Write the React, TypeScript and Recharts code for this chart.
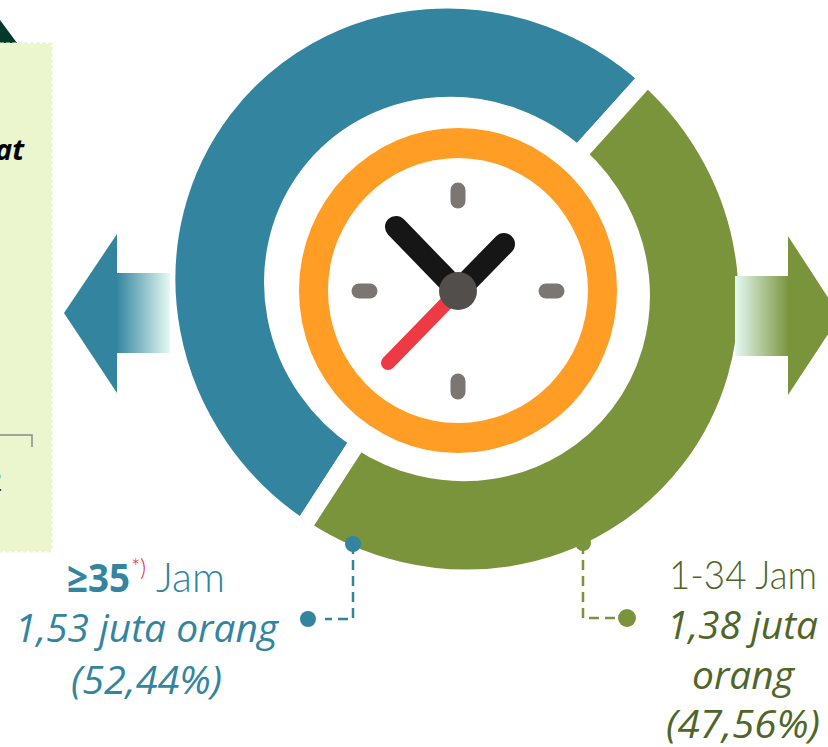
import React from 'react';
import { PieChart, Pie, Cell } from 'recharts';

const categories = ['>=35 Jam', '1-34 Jam'];
const shares = [52.44, 47.56];
const sliceColors = ['#32849f', '#7a943c'];
const pieData = categories.map((name, i) => ({ name, value: shares[i] }));

const BLUE = '#32849f';
const GREEN = '#7a943c';
const DARK_GREEN = '#4f6628';

const italicLabel = { fontFamily: '"Open Sans", sans-serif', fontStyle: 'italic', fontSize: 38 } as const;
const thinLabel = { fontFamily: 'Lato, sans-serif', fontWeight: 300, fontSize: 42 } as const;

// everything around the donut: clock face, arrows, leader lines, captions
const Overlay: React.FC = () => (
  <svg width={828} height={747} style={{ position: 'absolute', left: 0, top: 0 }}>
    <defs>
      <linearGradient id="fadeLeft" x1="0" y1="0" x2="1" y2="0">
        <stop offset="0" stopColor={BLUE} />
        <stop offset="1" stopColor="#e5faf3" />
      </linearGradient>
      <linearGradient id="fadeRight" x1="0" y1="0" x2="1" y2="0">
        <stop offset="0" stopColor="#e5faf3" />
        <stop offset="1" stopColor={GREEN} />
      </linearGradient>
    </defs>

    {/* side panel, mostly cut off in the source */}
    <polygon points="0,20 17,43 0,43" fill="#04382a" />
    <rect x={-6} y={44} width={57} height={507} fill="#ebf5ce" stroke="#ebf5ce" strokeWidth={3} strokeDasharray="4 2" />
    <text x={-5} y={160} fontFamily="'Open Sans', sans-serif" fontWeight={700} fontStyle="italic" fontSize={29} fill="#000">at</text>
    <path d="M0 435 H32 V447" fill="none" stroke="#8a8a8a" strokeWidth={1.5} />
    <text x={-13} y={491} fontFamily="'Open Sans', sans-serif" fontSize={27} fill="#333">2</text>

    {/* arrows */}
    <rect x={116} y={273} width={54} height={80} fill="url(#fadeLeft)" />
    <polygon points="64,313 117,234 117,393" fill={BLUE} />
    <rect x={735} y={276} width={54} height={80} fill="url(#fadeRight)" />
    <polygon points="840,316 788,236 788,395" fill={GREEN} />

    {/* clock */}
    <ellipse cx={458} cy={290.5} rx={159} ry={162.5} fill="#ff9d24" />
    <ellipse cx={458} cy={290.5} rx={130} ry={132.5} fill="#fff" />
    <g stroke="#7b7672" strokeWidth={15} strokeLinecap="round">
      <line x1={458} y1={190} x2={458} y2={201} />
      <line x1={458} y1={381} x2={458} y2={392} />
      <line x1={359} y1={291} x2={370} y2={291} />
      <line x1={546} y1={291} x2={557} y2={291} />
    </g>
    <line x1={458} y1={291} x2={388} y2={363} stroke="#ee3a43" strokeWidth={14} strokeLinecap="round" />
    <g stroke="#161616" strokeWidth={22} strokeLinecap="round">
      <line x1={458} y1={291} x2={396} y2={227} />
      <line x1={458} y1={291} x2={504} y2={244} />
    </g>
    <circle cx={458} cy={291} r={19} fill="#524e4b" />

    {/* leader lines */}
    <path d="M353 544 V619 H325" fill="none" stroke={BLUE} strokeWidth={2.5} strokeDasharray="10 6" />
    <circle cx={353} cy={544} r={8} fill={BLUE} />
    <circle cx={308} cy={619} r={8} fill={BLUE} />
    <path d="M583 544 V618 H615" fill="none" stroke={GREEN} strokeWidth={2.5} strokeDasharray="10 6" />
    <circle cx={583} cy={543} r={8} fill={GREEN} />
    <circle cx={627} cy={618} r={9} fill={GREEN} />

    {/* left caption */}
    <text x={67} y={592} textLength={63} lengthAdjust="spacingAndGlyphs" fontFamily="'Open Sans', sans-serif" fontWeight={700} fontSize={40} fill={BLUE}>≥35</text>
    <text x={131} y={576} textLength={15} lengthAdjust="spacingAndGlyphs" fontFamily="Lato, sans-serif" fontWeight={300} fontSize={24} fill="#e0202c">*)</text>
    <text x={156} y={592} textLength={69} lengthAdjust="spacingAndGlyphs" {...thinLabel} fill={BLUE}>Jam</text>
    <text x={15} y={642} textLength={263} lengthAdjust="spacingAndGlyphs" {...italicLabel} fill={BLUE}>1,53 juta orang</text>
    <text x={71} y={694} textLength={151} lengthAdjust="spacingAndGlyphs" {...italicLabel} fill={BLUE}>(52,44%)</text>

    {/* right caption */}
    <text x={669} y={589} textLength={148} lengthAdjust="spacingAndGlyphs" {...thinLabel} fontSize={40} fill={DARK_GREEN}>1-34 Jam</text>
    <text x={667} y={639} textLength={151} lengthAdjust="spacingAndGlyphs" {...italicLabel} fill={DARK_GREEN}>1,38 juta</text>
    <text x={692} y={689} textLength={102} lengthAdjust="spacingAndGlyphs" {...italicLabel} fill={DARK_GREEN}>orang</text>
    <text x={666} y={738} textLength={154} lengthAdjust="spacingAndGlyphs" {...italicLabel} fill={DARK_GREEN}>(47,56%)</text>
  </svg>
);

const App: React.FC = () => (
  <div style={{ position: 'absolute', left: 0, top: 0, width: 828, height: 747, overflow: 'hidden', background: '#fff' }}>
    {/* the source ring is slightly squashed along the line of its cuts; chart starts above the page so the white stroke is not clipped */}
    <div style={{ position: 'absolute', left: 0, top: -30, transformOrigin: '457px 319px', transform: 'rotate(42deg) scaleY(0.965) rotate(-42deg)' }}>
      <PieChart width={828} height={777} margin={{ top: 0, right: 0, bottom: 0, left: 0 }}>
        <Pie
          data={pieData}
          dataKey="value"
          nameKey="name"
          cx={457}
          cy={319}
          innerRadius={187.5}
          outerRadius={294.5}
          startAngle={48}
          endAngle={408}
          stroke="#fff"
          strokeWidth={17}
          isAnimationActive={false}
        >
          {pieData.map((entry, index) => (
            <Cell key={`cell-${index}`} fill={sliceColors[index]} stroke="#fff" strokeWidth={17} />
          ))}
        </Pie>
      </PieChart>
    </div>
    <Overlay />
  </div>
);

export default App;
